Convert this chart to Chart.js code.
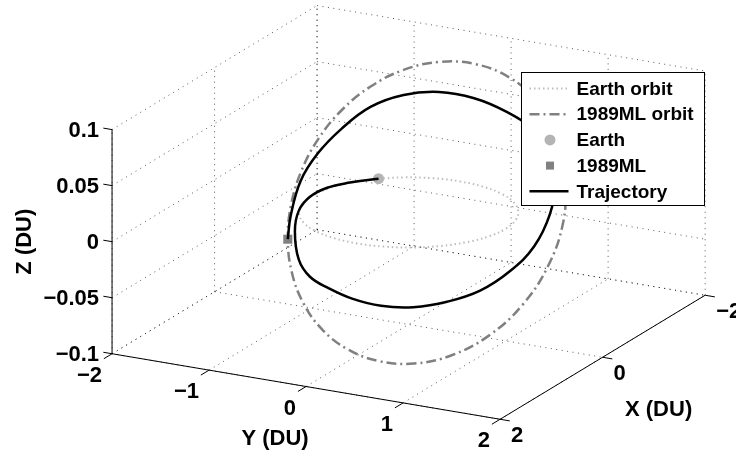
<!DOCTYPE html>
<html>
<head>
<meta charset="utf-8">
<title>Earth to 1989ML trajectory</title>
<script src="https://cdn.jsdelivr.net/npm/chart.js@4"></script>
<style>
  body { margin: 0; background: #fff; }
  canvas { display: block; }
</style>
</head>
<body>
<canvas id="orbitChart" width="736" height="456"></canvas>
<script>
// Axis limits and ticks (DU)
const xLim = [-2, 2];
const yLim = [-2, 2];
const zLim = [-0.1, 0.1];
const xTicks = [-2, 0, 2];
const yTicks = [-2, -1, 0, 1, 2];
const zTicks = [-0.1, -0.05, 0, 0.05, 0.1];

// Curves in cylindrical form: angle in the X-Y plane (deg), radius (DU), height Z (DU)
const earthOrbitTheta = [225, 240, 255, 270, 285, 300, 315, 330, 345, 360, 375, 390, 405,
                         420, 435, 450, 465, 480, 495, 510, 525, 540, 555, 570, 585];
const earthOrbitRadius = 1;

const mlOrbitTheta = [120, 135, 150, 165, 180, 195, 210, 225, 240, 255, 270, 285, 300,
                      315, 330, 345, 360, 375, 390, 405, 420, 435, 450, 465, 480];
const mlOrbitRadius = [1.4403, 1.4204, 1.3882, 1.3474, 1.3021, 1.2561, 1.2128, 1.1745, 1.1431,
                       1.1196, 1.1046, 1.0985, 1.1015, 1.1134, 1.1340, 1.1628, 1.1988, 1.2406,
                       1.2860, 1.3320, 1.3748, 1.4105, 1.4350, 1.4454, 1.4403];
const mlOrbitZ = [0.0296, 0.0552, 0.0758, 0.0896, 0.0963, 0.0959, 0.0892, 0.0772, 0.0611,
                  0.0420, 0.0210, -0.0009, -0.0226, -0.0433, -0.0619, -0.0774, -0.0887, -0.0947,
                  -0.0946, -0.0876, -0.0735, -0.0529, -0.0273, 0.0012, 0.0296];

const trajTheta = [223.75, 240, 255, 270, 285, 300, 315, 330, 345, 360, 375, 390, 405, 420, 435,
                   450, 465, 480, 495, 510, 525, 540, 555, 570, 585, 600, 615, 630, 645, 660];
const trajRadius = [1.000, 1.005, 1.012, 1.020, 1.028, 1.037, 1.048, 1.062, 1.080, 1.102,
                    1.128, 1.158, 1.190, 1.225, 1.262, 1.295, 1.322, 1.338, 1.340, 1.330,
                    1.308, 1.280, 1.245, 1.210, 1.178, 1.150, 1.128, 1.112, 1.103, 1.1015];
const trajZ = [0, 0, 0.0005, -0.0012, -0.0060, -0.0158, -0.0322, -0.0397, -0.0425, -0.0464,
               -0.0489, -0.0483, -0.0441, -0.0373, -0.0254, -0.0112, 0.0079, 0.0250, 0.0400,
               0.0520, 0.0599, 0.0665, 0.0695, 0.0669, 0.0589, 0.0441, 0.0287, 0.0120,
               -0.0110, -0.0226];

const earthPos = { theta: 223.75, radius: 1, z: 0 };
const mlPos = { theta: 300, radius: 1.1015, z: -0.0226 };

// View (azimuth / elevation of the 3D box), box height ratio and visible window
const VIEW_AZ = 117.85;
const VIEW_EL = 18.64;
const Z_ASPECT = 0.539;
const viewX = [-0.931, 0.746];
const viewY = [-0.555, 0.484];

const FONT = "'Liberation Sans', Arial, Helvetica, sans-serif";

function project(X, Y, Z) {
    const a = VIEW_AZ * Math.PI / 180;
    const e = VIEW_EL * Math.PI / 180;
    const xn = (X - (xLim[0] + xLim[1]) / 2) / (xLim[1] - xLim[0]);
    const yn = (Y - (yLim[0] + yLim[1]) / 2) / (yLim[1] - yLim[0]);
    const zn = (Z - (zLim[0] + zLim[1]) / 2) / (zLim[1] - zLim[0]) * Z_ASPECT;
    return {
        x: Math.cos(a) * xn + Math.sin(a) * yn,
        y: -Math.sin(e) * Math.sin(a) * xn + Math.sin(e) * Math.cos(a) * yn + Math.cos(e) * zn
    };
}

function polarPoint(theta, radius, z) {
    const t = theta * Math.PI / 180;
    return project(radius * Math.cos(t), radius * Math.sin(t), z);
}

function fmt(v) {
    return v < 0 ? '\u2212' + String(-v) : String(v);
}

// Box, grid, ticks and axis labels, then the legend on top
const box3dPlugin = {
    id: 'box3d',
    beforeDraw(chart) {
        const ctx = chart.ctx;
        ctx.save();
        ctx.fillStyle = '#fff';
        ctx.fillRect(0, 0, chart.width, chart.height);
        ctx.restore();
    },
    beforeDatasetsDraw(chart) {
        const ctx = chart.ctx;
        const xs = chart.scales.x, ys = chart.scales.y;
        const px = (X, Y, Z) => {
            const p = project(X, Y, Z);
            return { x: xs.getPixelForValue(p.x), y: ys.getPixelForValue(p.y) };
        };
        const seg = (a, b) => {
            ctx.beginPath();
            ctx.moveTo(a.x, a.y);
            ctx.lineTo(b.x, b.y);
            ctx.stroke();
        };
        const [x0, x1] = xLim, [y0, y1] = yLim, [z0, z1] = zLim;

        // dotted grid on floor and the two back walls
        ctx.save();
        ctx.strokeStyle = 'rgba(0,0,0,0.65)';
        ctx.lineWidth = 1;
        ctx.setLineDash([1, 4.5]);
        yTicks.forEach(Y => {
            seg(px(x1, Y, z0), px(x0, Y, z0));
            seg(px(x0, Y, z0), px(x0, Y, z1));
        });
        xTicks.forEach(X => {
            seg(px(X, y0, z0), px(X, y1, z0));
            seg(px(X, y0, z0), px(X, y0, z1));
        });
        zTicks.forEach(Z => {
            seg(px(x1, y0, Z), px(x0, y0, Z));
            seg(px(x0, y0, Z), px(x0, y1, Z));
        });
        ctx.restore();

        // axis lines and ticks
        ctx.save();
        ctx.strokeStyle = '#000';
        ctx.lineWidth = 1;
        seg(px(x1, y0, z0), px(x1, y0, z1));   // Z axis
        seg(px(x1, y0, z0), px(x1, y1, z0));   // Y axis
        seg(px(x1, y1, z0), px(x0, y1, z0));   // X axis
        zTicks.forEach(Z => seg(px(x1, y0, Z), px(x1, y0 - 0.09, Z)));
        yTicks.forEach(Y => seg(px(x1, Y, z0), px(x1 + 0.16, Y, z0)));
        xTicks.forEach(X => seg(px(X, y1, z0), px(X, y1 + 0.1, z0)));

        // tick labels
        ctx.fillStyle = '#000';
        ctx.font = 'bold 22px ' + FONT;
        ctx.textBaseline = 'middle';
        ctx.textAlign = 'right';
        zTicks.forEach(Z => {
            const p = px(x1, y0, Z);
            ctx.fillText(fmt(Z), p.x - 13, p.y + 1);
        });
        yTicks.forEach(Y => {
            const p = px(x1, Y, z0);
            ctx.fillText(fmt(Y), p.x - 10, p.y + 22);
        });
        ctx.textAlign = 'left';
        xTicks.forEach(X => {
            const p = px(X, y1, z0);
            ctx.fillText(fmt(X), p.x + 11, p.y + 17);
        });

        // axis labels
        ctx.textAlign = 'center';
        const yMid = px(x1, (y0 + y1) / 2, z0);
        ctx.fillText('Y (DU)', yMid.x - 31, yMid.y + 52);
        const xMid = px((x0 + x1) / 2, y1, z0);
        ctx.fillText('X (DU)', xMid.x + 56, xMid.y + 53);
        const zMid = px(x1, y0, (z0 + z1) / 2);
        ctx.save();
        ctx.translate(zMid.x - 88, zMid.y);
        ctx.rotate(-Math.PI / 2);
        ctx.fillText('Z (DU)', 0, 1);
        ctx.restore();
        ctx.restore();
    },
    afterDatasetsDraw(chart) {
        const ctx = chart.ctx;
        const sets = chart.data.datasets;
        const lx = 521.5, ly = 72.5, lw = 183, lh = 133, row = 25.7;
        ctx.save();
        ctx.fillStyle = '#fff';
        ctx.fillRect(lx, ly, lw, lh);
        ctx.strokeStyle = '#000';
        ctx.lineWidth = 1;
        ctx.strokeRect(lx, ly, lw, lh);
        ctx.font = 'bold 19px ' + FONT;
        ctx.textBaseline = 'middle';
        ctx.textAlign = 'left';
        sets.forEach((ds, i) => {
            const y = ly + 16 + i * row;
            if (ds.showLine) {
                ctx.save();
                ctx.strokeStyle = ds.borderColor;
                ctx.lineWidth = ds.borderWidth;
                ctx.setLineDash(ds.borderDash || []);
                ctx.beginPath();
                ctx.moveTo(lx + 8, y);
                ctx.lineTo(lx + 47, y);
                ctx.stroke();
                ctx.restore();
            } else {
                ctx.fillStyle = ds.backgroundColor;
                const cx = lx + 28.5;
                if (ds.pointStyle === 'rect') {
                    ctx.fillRect(cx - 4, y - 4, 8, 8);
                } else {
                    ctx.beginPath();
                    ctx.arc(cx, y, 5.5, 0, Math.PI * 2);
                    ctx.fill();
                }
            }
            ctx.fillStyle = '#000';
            ctx.fillText(ds.label, lx + 55, y + 1);
        });
        ctx.restore();
    }
};

const earthOrbitData = earthOrbitTheta.map(t => polarPoint(t, earthOrbitRadius, 0));
const mlOrbitData = mlOrbitTheta.map((t, i) => polarPoint(t, mlOrbitRadius[i], mlOrbitZ[i]));
const trajData = trajTheta.map((t, i) => polarPoint(t, trajRadius[i], trajZ[i]));

new Chart(document.getElementById('orbitChart'), {
    type: 'scatter',
    data: {
        datasets: [
            {
                label: 'Earth orbit', data: earthOrbitData, showLine: true, order: 4,
                borderColor: '#bdbdbd', borderWidth: 2, borderDash: [1.5, 3],
                pointRadius: 0, tension: 0.4, clip: false
            },
            {
                label: '1989ML orbit', data: mlOrbitData, showLine: true, order: 3,
                borderColor: '#808080', borderWidth: 2.5, borderDash: [10, 4, 2, 4],
                pointRadius: 0, tension: 0.4, clip: false
            },
            {
                label: 'Earth', data: [polarPoint(earthPos.theta, earthPos.radius, earthPos.z)],
                showLine: false, order: 2, pointStyle: 'circle', pointRadius: 5.5,
                backgroundColor: '#b4b4b4', borderWidth: 0, clip: false
            },
            {
                label: '1989ML', data: [polarPoint(mlPos.theta, mlPos.radius, mlPos.z)],
                showLine: false, order: 1, pointStyle: 'rect', pointRadius: 6.4,
                backgroundColor: '#808080', borderWidth: 0, clip: false
            },
            {
                label: 'Trajectory', data: trajData, showLine: true, order: 0,
                borderColor: '#000', borderWidth: 2.5,
                pointRadius: 0, tension: 0.4, clip: false
            }
        ]
    },
    options: {
        responsive: false,
        animation: false,
        layout: { padding: 0, autoPadding: false },
        scales: {
            x: { type: 'linear', display: false, min: viewX[0], max: viewX[1] },
            y: { type: 'linear', display: false, min: viewY[0], max: viewY[1] }
        },
        plugins: {
            legend: { display: false },
            tooltip: { enabled: false }
        }
    },
    plugins: [box3dPlugin]
});
</script>
</body>
</html>
